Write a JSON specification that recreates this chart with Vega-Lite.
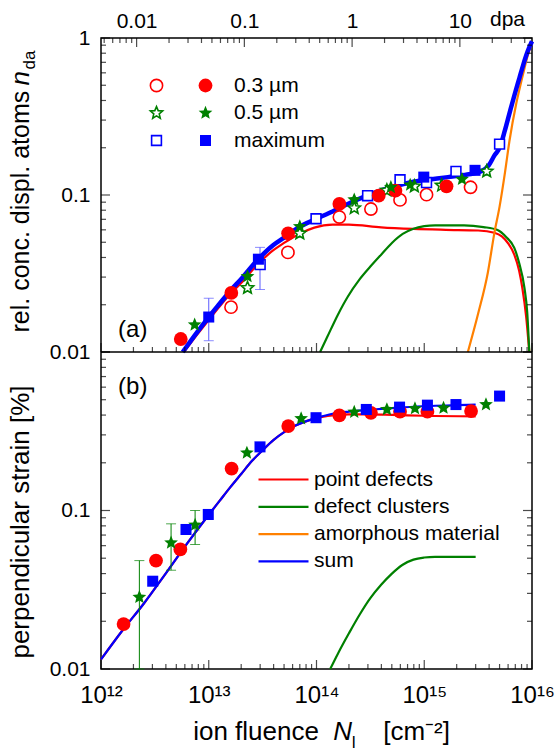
{
"$schema":"https://vega.github.io/schema/vega-lite/v6.json",
"padding":{"left":7,"top":8,"right":0,"bottom":0},
"width":431,"height":631,
"config":{"font":"Liberation Sans","view":{"stroke":"black","strokeWidth":1.5},
"axis":{"domain":false,"grid":false,"ticks":false,"labelColor":"black","titleColor":"black","titleFontWeight":"normal","labelFlush":false,"labelOverlap":false,"labelBound":false},
"legend":{"padding":0,"labelColor":"black","labelFont":"Liberation Sans","labelLimit":400}},
"datasets":{
"a_lines":[
{"N":5.89e12,"v":0.01,"c":"point defects"},{"N":7.94e12,"v":0.0131,"c":"point defects"},{"N":1e13,"v":0.016,"c":"point defects"},{"N":1.26e13,"v":0.0195,"c":"point defects"},{"N":1.58e13,"v":0.0233,"c":"point defects"},{"N":2e13,"v":0.0275,"c":"point defects"},{"N":2.88e13,"v":0.0365,"c":"point defects"},{"N":3.98e13,"v":0.0445,"c":"point defects"},{"N":5e13,"v":0.0495,"c":"point defects"},{"N":6.92e13,"v":0.0565,"c":"point defects"},{"N":9.55e13,"v":0.062,"c":"point defects"},{"N":1.41e14,"v":0.0648,"c":"point defects"},{"N":2e14,"v":0.0648,"c":"point defects"},{"N":3.98e14,"v":0.0622,"c":"point defects"},{"N":7.94e14,"v":0.0608,"c":"point defects"},{"N":1.58e15,"v":0.06,"c":"point defects"},{"N":3.16e15,"v":0.0594,"c":"point defects"},{"N":4.47e15,"v":0.0575,"c":"point defects"},{"N":5.25e15,"v":0.0545,"c":"point defects"},{"N":6.03e15,"v":0.049,"c":"point defects"},{"N":6.85e15,"v":0.0417,"c":"point defects"},{"N":7.59e15,"v":0.033,"c":"point defects"},{"N":8.13e15,"v":0.0256,"c":"point defects"},{"N":8.81e15,"v":0.017,"c":"point defects"},{"N":9.44e15,"v":0.01,"c":"point defects"},
{"N":1.08e14,"v":0.01,"c":"defect clusters"},{"N":1.26e14,"v":0.0125,"c":"defect clusters"},{"N":1.58e14,"v":0.0173,"c":"defect clusters"},{"N":1.95e14,"v":0.0225,"c":"defect clusters"},{"N":2.51e14,"v":0.029,"c":"defect clusters"},{"N":3.16e14,"v":0.035,"c":"defect clusters"},{"N":3.98e14,"v":0.0417,"c":"defect clusters"},{"N":5.01e14,"v":0.0495,"c":"defect clusters"},{"N":6.31e14,"v":0.0565,"c":"defect clusters"},{"N":7.94e14,"v":0.061,"c":"defect clusters"},{"N":1e15,"v":0.0633,"c":"defect clusters"},{"N":1.26e15,"v":0.0641,"c":"defect clusters"},{"N":2.34e15,"v":0.0641,"c":"defect clusters"},{"N":3.55e15,"v":0.0625,"c":"defect clusters"},{"N":4.79e15,"v":0.0598,"c":"defect clusters"},{"N":5.75e15,"v":0.054,"c":"defect clusters"},{"N":6.85e15,"v":0.046,"c":"defect clusters"},{"N":7.59e15,"v":0.037,"c":"defect clusters"},{"N":8.51e15,"v":0.0256,"c":"defect clusters"},{"N":9.02e15,"v":0.018,"c":"defect clusters"},{"N":9.44e15,"v":0.01,"c":"defect clusters"},
{"N":2.54e15,"v":0.01,"c":"amorphous material"},{"N":3.16e15,"v":0.0175,"c":"amorphous material"},{"N":3.89e15,"v":0.032,"c":"amorphous material"},{"N":4.47e15,"v":0.057,"c":"amorphous material"},{"N":5.01e15,"v":0.085,"c":"amorphous material"},{"N":5.62e15,"v":0.14,"c":"amorphous material"},{"N":6.17e15,"v":0.22,"c":"amorphous material"},{"N":7.13e15,"v":0.38,"c":"amorphous material"},{"N":7.64e15,"v":0.47,"c":"amorphous material"},{"N":8.51e15,"v":0.64,"c":"amorphous material"},{"N":9.12e15,"v":0.77,"c":"amorphous material"},{"N":1e16,"v":0.93,"c":"amorphous material"}],
"a_sum":[
{"N":5.73e12,"v":0.01},{"N":7.94e12,"v":0.0136},{"N":1e13,"v":0.0167},{"N":1.26e13,"v":0.0203},{"N":1.58e13,"v":0.0245},{"N":2e13,"v":0.0292},{"N":2.88e13,"v":0.039},{"N":3.98e13,"v":0.048},{"N":5.01e13,"v":0.0535},{"N":6.92e13,"v":0.0625},{"N":9.55e13,"v":0.0696},{"N":1.41e14,"v":0.0785},{"N":1.95e14,"v":0.0877},{"N":2.82e14,"v":0.098},{"N":3.98e14,"v":0.107},{"N":5.62e14,"v":0.115},{"N":8.13e14,"v":0.122},{"N":1.17e15,"v":0.126},{"N":1.66e15,"v":0.13},{"N":2.51e15,"v":0.135},{"N":3.39e15,"v":0.1416},{"N":3.98e15,"v":0.155},{"N":4.47e15,"v":0.178},{"N":5.01e15,"v":0.2},{"N":5.62e15,"v":0.26},{"N":6.17e15,"v":0.33},{"N":6.92e15,"v":0.44},{"N":7.64e15,"v":0.556},{"N":8.32e15,"v":0.68},{"N":9.12e15,"v":0.822},{"N":1e16,"v":0.953}],
"a_err":[{"N":1e13,"lo":0.0118,"hi":0.022},{"N":2.99e13,"lo":0.025,"hi":0.0464}],
"a_open":[
{"N":1.61e13,"v":0.0193,"s":"0.3 µm"},{"N":5.43e13,"v":0.0431,"s":"0.3 µm"},{"N":1.63e14,"v":0.0724,"s":"0.3 µm"},{"N":3.2e14,"v":0.0814,"s":"0.3 µm"},{"N":5.96e14,"v":0.093,"s":"0.3 µm"},{"N":1.05e15,"v":0.1005,"s":"0.3 µm"},{"N":2.69e15,"v":0.112,"s":"0.3 µm"},
{"N":2.29e13,"v":0.0256,"s":"0.5 µm"},{"N":7.0e13,"v":0.057,"s":"0.5 µm"},{"N":2.24e14,"v":0.0826,"s":"0.5 µm"},{"N":4.5e14,"v":0.107,"s":"0.5 µm"},{"N":8.1e14,"v":0.1136,"s":"0.5 µm"},{"N":1.45e15,"v":0.115,"s":"0.5 µm"},{"N":3.8e15,"v":0.1415,"s":"0.5 µm"},
{"N":3.0e13,"v":0.036,"s":"maximum"},{"N":9.9e13,"v":0.0706,"s":"maximum"},{"N":2.98e14,"v":0.099,"s":"maximum"},{"N":5.96e14,"v":0.125,"s":"maximum"},{"N":1.05e15,"v":0.12,"s":"maximum"},{"N":1.97e15,"v":0.1415,"s":"maximum"},{"N":5.0e15,"v":0.211,"s":"maximum"}],
"a_filled":[
{"N":5.5e12,"v":0.0121,"s":"0.3 µm"},{"N":1.62e13,"v":0.0238,"s":"0.3 µm"},{"N":5.45e13,"v":0.057,"s":"0.3 µm"},{"N":1.63e14,"v":0.0877,"s":"0.3 µm"},{"N":3.78e14,"v":0.099,"s":"0.3 µm"},{"N":5.4e14,"v":0.1066,"s":"0.3 µm"},{"N":1.61e15,"v":0.1136,"s":"0.3 µm"},
{"N":7.4e12,"v":0.0149,"s":"0.5 µm"},{"N":2.29e13,"v":0.0303,"s":"0.5 µm"},{"N":7.0e13,"v":0.063,"s":"0.5 µm"},{"N":2.24e14,"v":0.0933,"s":"0.5 µm"},{"N":4.9e14,"v":0.112,"s":"0.5 µm"},{"N":7.4e14,"v":0.116,"s":"0.5 µm"},{"N":2.24e15,"v":0.126,"s":"0.5 µm"},
{"N":1.0e13,"v":0.0167,"s":"maximum"},{"N":2.89e13,"v":0.039,"s":"maximum"},{"N":9.9e14,"v":0.13,"s":"maximum"},{"N":2.96e15,"v":0.1436,"s":"maximum"}],
"a_text":[{"N":1.97e12,"v":0.01387,"t":"(a)"}],
"dpa":[{"d":1,"v":0.5}],
"xlab":[{"N":1e13,"v":0.5}],
"sep":[{"v":0.01}],
"xmaj":[{"t":1e12},{"t":1e13},{"t":1e14},{"t":1e15},{"t":1e16}],
"xmin":[{"t":2e12},{"t":3e12},{"t":4e12},{"t":5e12},{"t":6e12},{"t":7e12},{"t":8e12},{"t":9e12},{"t":2e13},{"t":3e13},{"t":4e13},{"t":5e13},{"t":6e13},{"t":7e13},{"t":8e13},{"t":9e13},{"t":2e14},{"t":3e14},{"t":4e14},{"t":5e14},{"t":6e14},{"t":7e14},{"t":8e14},{"t":9e14},{"t":2e15},{"t":3e15},{"t":4e15},{"t":5e15},{"t":6e15},{"t":7e15},{"t":8e15},{"t":9e15}],
"ymaj":[{"t":0.01},{"t":0.1},{"t":1}],
"ymin":[{"t":0.02},{"t":0.03},{"t":0.04},{"t":0.05},{"t":0.06},{"t":0.07},{"t":0.08},{"t":0.09},{"t":0.2},{"t":0.3},{"t":0.4},{"t":0.5},{"t":0.6},{"t":0.7},{"t":0.8},{"t":0.9}],
"dmaj":[{"t":0.01},{"t":0.1},{"t":1},{"t":10}],
"dmin":[{"t":0.005},{"t":0.006},{"t":0.007},{"t":0.008},{"t":0.009},{"t":0.02},{"t":0.03},{"t":0.04},{"t":0.05},{"t":0.06},{"t":0.07},{"t":0.08},{"t":0.09},{"t":0.2},{"t":0.3},{"t":0.4},{"t":0.5},{"t":0.6},{"t":0.7},{"t":0.8},{"t":0.9},{"t":2},{"t":3},{"t":4},{"t":5},{"t":6},{"t":7},{"t":8},{"t":9},{"t":20},{"t":30},{"t":40}],
"b_lines":[
{"N":1e12,"v":0.0115,"c":"point defects"},{"N":1.58e12,"v":0.0175,"c":"point defects"},{"N":2.51e12,"v":0.026,"c":"point defects"},{"N":3.98e12,"v":0.04,"c":"point defects"},{"N":6.31e12,"v":0.062,"c":"point defects"},{"N":1e13,"v":0.094,"c":"point defects"},{"N":1.26e13,"v":0.115,"c":"point defects"},{"N":1.58e13,"v":0.14,"c":"point defects"},{"N":2e13,"v":0.17,"c":"point defects"},{"N":2.51e13,"v":0.205,"c":"point defects"},{"N":3.16e13,"v":0.24,"c":"point defects"},{"N":3.98e13,"v":0.278,"c":"point defects"},{"N":5.01e13,"v":0.312,"c":"point defects"},{"N":6.31e13,"v":0.342,"c":"point defects"},{"N":7.94e13,"v":0.365,"c":"point defects"},{"N":1e14,"v":0.383,"c":"point defects"},{"N":1.41e14,"v":0.398,"c":"point defects"},{"N":2e14,"v":0.404,"c":"point defects"},{"N":3.16e14,"v":0.404,"c":"point defects"},{"N":5.01e14,"v":0.401,"c":"point defects"},{"N":1e15,"v":0.396,"c":"point defects"},{"N":3e15,"v":0.393,"c":"point defects"},
{"N":1.34e14,"v":0.01,"c":"defect clusters"},{"N":1.58e14,"v":0.0125,"c":"defect clusters"},{"N":2e14,"v":0.0168,"c":"defect clusters"},{"N":2.51e14,"v":0.022,"c":"defect clusters"},{"N":3.16e14,"v":0.028,"c":"defect clusters"},{"N":3.98e14,"v":0.034,"c":"defect clusters"},{"N":5.01e14,"v":0.04,"c":"defect clusters"},{"N":6.31e14,"v":0.0455,"c":"defect clusters"},{"N":7.94e14,"v":0.049,"c":"defect clusters"},{"N":1e15,"v":0.0505,"c":"defect clusters"},{"N":1.26e15,"v":0.051,"c":"defect clusters"},{"N":3e15,"v":0.051,"c":"defect clusters"}],
"b_sum":[
{"N":1e12,"v":0.0115,"c":"sum"},{"N":1.58e12,"v":0.0175,"c":"sum"},{"N":2.51e12,"v":0.026,"c":"sum"},{"N":3.98e12,"v":0.04,"c":"sum"},{"N":6.31e12,"v":0.062,"c":"sum"},{"N":1e13,"v":0.094,"c":"sum"},{"N":1.26e13,"v":0.115,"c":"sum"},{"N":1.58e13,"v":0.14,"c":"sum"},{"N":2e13,"v":0.17,"c":"sum"},{"N":2.51e13,"v":0.205,"c":"sum"},{"N":3.16e13,"v":0.24,"c":"sum"},{"N":3.98e13,"v":0.278,"c":"sum"},{"N":5.01e13,"v":0.312,"c":"sum"},{"N":6.31e13,"v":0.342,"c":"sum"},{"N":7.94e13,"v":0.365,"c":"sum"},{"N":1e14,"v":0.384,"c":"sum"},{"N":1.41e14,"v":0.408,"c":"sum"},{"N":2e14,"v":0.421,"c":"sum"},{"N":3.16e14,"v":0.432,"c":"sum"},{"N":5.01e14,"v":0.443,"c":"sum"},{"N":7.94e14,"v":0.451,"c":"sum"},{"N":1.26e15,"v":0.458,"c":"sum"},{"N":2e15,"v":0.462,"c":"sum"},{"N":3e15,"v":0.465,"c":"sum"}],
"b_err":[{"N":2.27e12,"lo":0.01,"hi":0.0483},{"N":4.47e12,"lo":0.042,"hi":0.0824},{"N":7.47e12,"lo":0.061,"hi":0.1}],
"b_pts":[
{"N":1.62e12,"v":0.0192,"s":"0.3 µm"},{"N":3.24e12,"v":0.0483,"s":"0.3 µm"},{"N":5.45e12,"v":0.0568,"s":"0.3 µm"},{"N":1.63e13,"v":0.184,"s":"0.3 µm"},{"N":5.47e13,"v":0.341,"s":"0.3 µm"},{"N":1.63e14,"v":0.398,"s":"0.3 µm"},{"N":3.2e14,"v":0.413,"s":"0.3 µm"},{"N":5.96e14,"v":0.42,"s":"0.3 µm"},{"N":1.07e15,"v":0.42,"s":"0.3 µm"},{"N":2.72e15,"v":0.424,"s":"0.3 µm"},
{"N":2.27e12,"v":0.0284,"s":"0.5 µm"},{"N":4.47e12,"v":0.0625,"s":"0.5 µm"},{"N":7.47e12,"v":0.081,"s":"0.5 µm"},{"N":2.26e13,"v":0.231,"s":"0.5 µm"},{"N":7.2e13,"v":0.38,"s":"0.5 µm"},{"N":2.24e14,"v":0.418,"s":"0.5 µm"},{"N":4.5e14,"v":0.434,"s":"0.5 µm"},{"N":8.2e14,"v":0.44,"s":"0.5 µm"},{"N":1.51e15,"v":0.444,"s":"0.5 µm"},{"N":3.74e15,"v":0.466,"s":"0.5 µm"},
{"N":3.02e12,"v":0.0358,"s":"maximum"},{"N":6.15e12,"v":0.0759,"s":"maximum"},{"N":9.9e12,"v":0.0944,"s":"maximum"},{"N":2.99e13,"v":0.252,"s":"maximum"},{"N":9.9e13,"v":0.385,"s":"maximum"},{"N":2.9e14,"v":0.434,"s":"maximum"},{"N":5.9e14,"v":0.449,"s":"maximum"},{"N":1.07e15,"v":0.462,"s":"maximum"},{"N":1.97e15,"v":0.466,"s":"maximum"},{"N":5.0e15,"v":0.527,"s":"maximum"}],
"b_text":[{"N":1.97e12,"v":0.601,"t":"(b)"}]
},
"resolve":{"scale":{"x":"independent","y":"independent","color":"independent","strokeWidth":"independent","shape":"independent","fill":"independent","stroke":"independent"}},
"layer":[
{"resolve":{"scale":{"x":"independent"}},
"layer":[
{"resolve":{"scale":{"shape":"independent","fill":"independent","stroke":"independent"}},
"layer":[
{"data":{"name":"a_lines"},"mark":{"type":"line","strokeWidth":2.2,"interpolate":"monotone"},
"encoding":{
"x":{"field":"N","type":"quantitative","scale":{"type":"log","domain":[1e12,1e16],"nice":false},"axis":null},
"y":{"field":"v","type":"quantitative","scale":{"type":"log","domain":[0.01,1],"nice":false,"range":[314,0]},"axis":{"orient":"left","values":[0.01,0.1,1],"format":"~g","labelFontSize":21,"labelPadding":11,"ticks":false,"title":"rel. conc. displ. atoms","titleFontSize":25,"titleX":-73,"titleY":294,"titleAlign":"left","titleAngle":-90,"titleBaseline":"alphabetic"}},
"color":{"field":"c","type":"nominal","scale":{"domain":["point defects","defect clusters","amorphous material","sum"],"range":["#ff0000","#008000","#ff8000","#0000ff"]},"legend":null}}},
{"data":{"name":"a_sum"},"mark":{"type":"line","strokeWidth":4.5,"color":"#0000ff","interpolate":"monotone"},
"encoding":{"x":{"field":"N","type":"quantitative","scale":{"type":"log","domain":[1e12,1e16],"nice":false},"axis":null},
"y":{"field":"v","type":"quantitative","scale":{"type":"log","domain":[0.01,1],"nice":false,"range":[314,0]},"axis":{"orient":"left","labels":false,"ticks":false,"title":"n","titleFontStyle":"italic","titleFontSize":26,"titleX":-73,"titleY":47,"titleAlign":"left","titleAngle":-90,"titleBaseline":"alphabetic"}}}},
{"data":{"name":"a_sum"},"mark":{"type":"point","opacity":0},
"encoding":{"x":{"field":"N","type":"quantitative","scale":{"type":"log","domain":[1e12,1e16],"nice":false},"axis":null},"y":{"field":"v","type":"quantitative","scale":{"type":"log","domain":[0.01,1],"nice":false,"range":[314,0]},"axis":{"orient":"right","labels":false,"ticks":false,"title":"da","titleFontSize":17,"titleX":-498,"titleY":31,"titleAlign":"left","titleAngle":-90,"titleBaseline":"alphabetic"}}}},
{"data":{"name":"sep"},"mark":{"type":"rule","color":"black","strokeWidth":1.5},
"encoding":{"y":{"field":"v","type":"quantitative","scale":{"type":"log","domain":[0.01,1],"nice":false,"range":[314,0]},"axis":null}}},
{"data":{"name":"ymaj"},"mark":{"type":"tick","orient":"horizontal","size":9,"thickness":1.2,"color":"black","xOffset":4.5},
"encoding":{"x":{"datum":1e12,"type":"quantitative","scale":{"type":"log","domain":[1e12,1e16],"nice":false},"axis":null},"y":{"field":"t","type":"quantitative","scale":{"type":"log","domain":[0.01,1],"nice":false,"range":[314,0]},"axis":null}}},
{"data":{"name":"ymin"},"mark":{"type":"tick","orient":"horizontal","size":5,"thickness":1.2,"color":"black","xOffset":2.5},
"encoding":{"x":{"datum":1e12,"type":"quantitative","scale":{"type":"log","domain":[1e12,1e16],"nice":false},"axis":null},"y":{"field":"t","type":"quantitative","scale":{"type":"log","domain":[0.01,1],"nice":false,"range":[314,0]},"axis":null}}},
{"data":{"name":"ymaj"},"mark":{"type":"tick","orient":"horizontal","size":9,"thickness":1.2,"color":"black","xOffset":-4.5},
"encoding":{"x":{"datum":1e16,"type":"quantitative","scale":{"type":"log","domain":[1e12,1e16],"nice":false},"axis":null},"y":{"field":"t","type":"quantitative","scale":{"type":"log","domain":[0.01,1],"nice":false,"range":[314,0]},"axis":null}}},
{"data":{"name":"ymin"},"mark":{"type":"tick","orient":"horizontal","size":5,"thickness":1.2,"color":"black","xOffset":-2.5},
"encoding":{"x":{"datum":1e16,"type":"quantitative","scale":{"type":"log","domain":[1e12,1e16],"nice":false},"axis":null},"y":{"field":"t","type":"quantitative","scale":{"type":"log","domain":[0.01,1],"nice":false,"range":[314,0]},"axis":null}}},
{"data":{"name":"xmaj"},"mark":{"type":"tick","orient":"vertical","size":9,"thickness":1.2,"color":"black","yOffset":-4.5},
"encoding":{"x":{"field":"t","type":"quantitative","scale":{"type":"log","domain":[1e12,1e16],"nice":false},"axis":null},"y":{"datum":0.01,"type":"quantitative","scale":{"type":"log","domain":[0.01,1],"nice":false,"range":[314,0]},"axis":null}}},
{"data":{"name":"xmin"},"mark":{"type":"tick","orient":"vertical","size":5,"thickness":1.2,"color":"black","yOffset":-2.5},
"encoding":{"x":{"field":"t","type":"quantitative","scale":{"type":"log","domain":[1e12,1e16],"nice":false},"axis":null},"y":{"datum":0.01,"type":"quantitative","scale":{"type":"log","domain":[0.01,1],"nice":false,"range":[314,0]},"axis":null}}},
{"data":{"name":"a_err"},"mark":{"type":"rule","color":"#5a5aff","strokeWidth":1},
"encoding":{"x":{"field":"N","type":"quantitative","scale":{"type":"log","domain":[1e12,1e16],"nice":false},"axis":null},"y":{"field":"lo","type":"quantitative","scale":{"type":"log","domain":[0.01,1],"nice":false,"range":[314,0]},"axis":null},"y2":{"field":"hi"}}},
{"data":{"name":"a_err"},"mark":{"type":"tick","orient":"horizontal","color":"#5a5aff","size":10,"thickness":1},
"encoding":{"x":{"field":"N","type":"quantitative","scale":{"type":"log","domain":[1e12,1e16],"nice":false},"axis":null},"y":{"field":"lo","type":"quantitative","scale":{"type":"log","domain":[0.01,1],"nice":false,"range":[314,0]},"axis":null}}},
{"data":{"name":"a_err"},"mark":{"type":"tick","orient":"horizontal","color":"#5a5aff","size":10,"thickness":1},
"encoding":{"x":{"field":"N","type":"quantitative","scale":{"type":"log","domain":[1e12,1e16],"nice":false},"axis":null},"y":{"field":"hi","type":"quantitative","scale":{"type":"log","domain":[0.01,1],"nice":false,"range":[314,0]},"axis":null}}},
{"data":{"name":"a_open"},"mark":{"type":"point","filled":true,"fill":"white","strokeWidth":1.6,"size":150,"opacity":1},
"encoding":{"x":{"field":"N","type":"quantitative","scale":{"type":"log","domain":[1e12,1e16],"nice":false},"axis":null},"y":{"field":"v","type":"quantitative","scale":{"type":"log","domain":[0.01,1],"nice":false,"range":[314,0]},"axis":null},
"shape":{"field":"s","type":"nominal","scale":{"domain":["0.3 µm","0.5 µm","maximum"],"range":["circle","M0,-1.05L0.2763,-0.3802L0.9986,-0.3245L0.447,0.1452L0.6172,0.8495L0,0.47L-0.6172,0.8495L-0.447,0.1452L-0.9986,-0.3245L-0.2763,-0.3802Z","M-0.8,-0.8L0.8,-0.8L0.8,0.8L-0.8,0.8Z"]},"legend":{"orient":"none","legendX":45,"legendY":37,"title":null,"labelExpr":"' '","labelFontSize":21,"symbolSize":150,"symbolStrokeWidth":1.6,"symbolFillColor":"white","rowPadding":5.5}},
"stroke":{"field":"s","type":"nominal","scale":{"domain":["0.3 µm","0.5 µm","maximum"],"range":["#ff0000","#008000","#0000ff"]},"legend":{"orient":"none","legendX":45,"legendY":37,"title":null,"labelExpr":"' '","labelFontSize":21,"symbolSize":150,"symbolStrokeWidth":1.6,"symbolFillColor":"white","rowPadding":5.5}}}},
{"data":{"name":"a_filled"},"mark":{"type":"point","filled":true,"size":190,"opacity":1},
"encoding":{"x":{"field":"N","type":"quantitative","scale":{"type":"log","domain":[1e12,1e16],"nice":false},"axis":null},"y":{"field":"v","type":"quantitative","scale":{"type":"log","domain":[0.01,1],"nice":false,"range":[314,0]},"axis":null},
"shape":{"field":"s","type":"nominal","scale":{"domain":["0.3 µm","0.5 µm","maximum"],"range":["circle","M0,-1.05L0.2763,-0.3802L0.9986,-0.3245L0.447,0.1452L0.6172,0.8495L0,0.47L-0.6172,0.8495L-0.447,0.1452L-0.9986,-0.3245L-0.2763,-0.3802Z","M-0.8,-0.8L0.8,-0.8L0.8,0.8L-0.8,0.8Z"]},"legend":{"orient":"none","legendX":94,"legendY":37,"title":null,"labelFontSize":21,"labelOffset":18,"symbolSize":190,"symbolStrokeWidth":0,"rowPadding":5.5}},
"fill":{"field":"s","type":"nominal","scale":{"domain":["0.3 µm","0.5 µm","maximum"],"range":["#ff0000","#008000","#0000ff"]},"legend":{"orient":"none","legendX":94,"legendY":37,"title":null,"labelFontSize":21,"labelOffset":18,"symbolSize":190,"symbolStrokeWidth":0,"rowPadding":5.5}}}},
{"data":{"name":"a_text"},"mark":{"type":"text","fontSize":24,"align":"center","baseline":"middle","color":"black"},
"encoding":{"x":{"field":"N","type":"quantitative","scale":{"type":"log","domain":[1e12,1e16],"nice":false},"axis":null},"y":{"field":"v","type":"quantitative","scale":{"type":"log","domain":[0.01,1],"nice":false,"range":[314,0]},"axis":null},"text":{"field":"t"}}}
]},
{"data":{"name":"dpa"},"mark":{"type":"point","opacity":0},
"encoding":{"x":{"field":"d","type":"quantitative","scale":{"type":"log","domain":[0.004672,46.72],"nice":false},"axis":{"orient":"top","values":[0.01,0.1,1,10],"format":"~g","labelFontSize":21,"labelPadding":7,"ticks":false,"title":"dpa","titleFontSize":21,"titleX":406,"titleY":-13,"titleAlign":"center","titleBaseline":"alphabetic"}},
"y":{"field":"v","type":"quantitative","scale":{"type":"log","domain":[0.01,1],"nice":false,"range":[314,0]},"axis":null}}},
{"data":{"name":"dmaj"},"mark":{"type":"tick","orient":"vertical","size":9,"thickness":1.2,"color":"black","yOffset":4.5},
"encoding":{"x":{"field":"t","type":"quantitative","scale":{"type":"log","domain":[0.004672,46.72],"nice":false},"axis":null},"y":{"datum":1,"type":"quantitative","scale":{"type":"log","domain":[0.01,1],"nice":false,"range":[314,0]},"axis":null}}},
{"data":{"name":"dmin"},"mark":{"type":"tick","orient":"vertical","size":5,"thickness":1.2,"color":"black","yOffset":2.5},
"encoding":{"x":{"field":"t","type":"quantitative","scale":{"type":"log","domain":[0.004672,46.72],"nice":false},"axis":null},"y":{"datum":1,"type":"quantitative","scale":{"type":"log","domain":[0.01,1],"nice":false,"range":[314,0]},"axis":null}}}
]},
{"resolve":{"scale":{"x":"independent","y":"independent"}},
"layer":[
{"layer":[
{"data":{"name":"b_lines"},"mark":{"type":"line","interpolate":"monotone"},
"encoding":{
"x":{"field":"N","type":"quantitative","scale":{"type":"log","domain":[1e12,1e16],"nice":false},"axis":null},
"y":{"field":"v","type":"quantitative","scale":{"type":"log","domain":[0.01,1],"nice":false,"range":[631,314]},"axis":null},
"color":{"field":"c","type":"nominal","scale":{"domain":["point defects","defect clusters","amorphous material","sum"],"range":["#ff0000","#008000","#ff8000","#0000ff"]},"legend":{"orient":"none","legendX":172,"legendY":431,"title":null,"symbolType":"M-5,0L5,0","symbolSize":100,"labelFontSize":21,"labelOffset":20,"rowPadding":5.3}},
"strokeWidth":{"field":"c","type":"ordinal","scale":{"domain":["point defects","defect clusters","amorphous material","sum"],"range":[2.2,2.2,2.2,4.5]},"legend":{"orient":"none","legendX":172,"legendY":431,"title":null,"symbolType":"M-5,0L5,0","symbolSize":100,"labelFontSize":21,"labelOffset":20,"rowPadding":5.3}}}},
{"data":{"name":"b_sum"},"mark":{"type":"line","interpolate":"monotone"},
"encoding":{"x":{"field":"N","type":"quantitative","scale":{"type":"log","domain":[1e12,1e16],"nice":false},"axis":null},
"y":{"field":"v","type":"quantitative","scale":{"type":"log","domain":[0.01,1],"nice":false,"range":[631,314]},"axis":null},
"color":{"field":"c","type":"nominal","scale":{"domain":["point defects","defect clusters","amorphous material","sum"],"range":["#ff0000","#008000","#ff8000","#0000ff"]},"legend":null},
"strokeWidth":{"field":"c","type":"ordinal","scale":{"domain":["point defects","defect clusters","amorphous material","sum"],"range":[2.2,2.2,2.2,4.5]},"legend":null}}},
{"data":{"name":"ymaj"},"mark":{"type":"tick","orient":"horizontal","size":9,"thickness":1.2,"color":"black","xOffset":4.5},
"encoding":{"x":{"datum":1e12,"type":"quantitative","scale":{"type":"log","domain":[1e12,1e16],"nice":false},"axis":null},"y":{"field":"t","type":"quantitative","scale":{"type":"log","domain":[0.01,1],"nice":false,"range":[631,314]},"axis":null}}},
{"data":{"name":"ymin"},"mark":{"type":"tick","orient":"horizontal","size":5,"thickness":1.2,"color":"black","xOffset":2.5},
"encoding":{"x":{"datum":1e12,"type":"quantitative","scale":{"type":"log","domain":[1e12,1e16],"nice":false},"axis":null},"y":{"field":"t","type":"quantitative","scale":{"type":"log","domain":[0.01,1],"nice":false,"range":[631,314]},"axis":null}}},
{"data":{"name":"ymaj"},"mark":{"type":"tick","orient":"horizontal","size":9,"thickness":1.2,"color":"black","xOffset":-4.5},
"encoding":{"x":{"datum":1e16,"type":"quantitative","scale":{"type":"log","domain":[1e12,1e16],"nice":false},"axis":null},"y":{"field":"t","type":"quantitative","scale":{"type":"log","domain":[0.01,1],"nice":false,"range":[631,314]},"axis":null}}},
{"data":{"name":"ymin"},"mark":{"type":"tick","orient":"horizontal","size":5,"thickness":1.2,"color":"black","xOffset":-2.5},
"encoding":{"x":{"datum":1e16,"type":"quantitative","scale":{"type":"log","domain":[1e12,1e16],"nice":false},"axis":null},"y":{"field":"t","type":"quantitative","scale":{"type":"log","domain":[0.01,1],"nice":false,"range":[631,314]},"axis":null}}},
{"data":{"name":"xmaj"},"mark":{"type":"tick","orient":"vertical","size":9,"thickness":1.2,"color":"black","yOffset":-4.5},
"encoding":{"x":{"field":"t","type":"quantitative","scale":{"type":"log","domain":[1e12,1e16],"nice":false},"axis":null},"y":{"datum":0.01,"type":"quantitative","scale":{"type":"log","domain":[0.01,1],"nice":false,"range":[631,314]},"axis":null}}},
{"data":{"name":"xmin"},"mark":{"type":"tick","orient":"vertical","size":5,"thickness":1.2,"color":"black","yOffset":-2.5},
"encoding":{"x":{"field":"t","type":"quantitative","scale":{"type":"log","domain":[1e12,1e16],"nice":false},"axis":null},"y":{"datum":0.01,"type":"quantitative","scale":{"type":"log","domain":[0.01,1],"nice":false,"range":[631,314]},"axis":null}}},
{"data":{"name":"b_err"},"mark":{"type":"rule","color":"#008000","strokeWidth":1},
"encoding":{"x":{"field":"N","type":"quantitative","scale":{"type":"log","domain":[1e12,1e16],"nice":false},"axis":null},"y":{"field":"lo","type":"quantitative","scale":{"type":"log","domain":[0.01,1],"nice":false,"range":[631,314]},"axis":null},"y2":{"field":"hi"}}},
{"data":{"name":"b_err"},"mark":{"type":"tick","orient":"horizontal","color":"#008000","size":10,"thickness":1},
"encoding":{"x":{"field":"N","type":"quantitative","scale":{"type":"log","domain":[1e12,1e16],"nice":false},"axis":null},"y":{"field":"lo","type":"quantitative","scale":{"type":"log","domain":[0.01,1],"nice":false,"range":[631,314]},"axis":null}}},
{"data":{"name":"b_err"},"mark":{"type":"tick","orient":"horizontal","color":"#008000","size":10,"thickness":1},
"encoding":{"x":{"field":"N","type":"quantitative","scale":{"type":"log","domain":[1e12,1e16],"nice":false},"axis":null},"y":{"field":"hi","type":"quantitative","scale":{"type":"log","domain":[0.01,1],"nice":false,"range":[631,314]},"axis":null}}},
{"data":{"name":"b_pts"},"mark":{"type":"point","filled":true,"size":190,"opacity":1},
"encoding":{"x":{"field":"N","type":"quantitative","scale":{"type":"log","domain":[1e12,1e16],"nice":false},"axis":null},"y":{"field":"v","type":"quantitative","scale":{"type":"log","domain":[0.01,1],"nice":false,"range":[631,314]},"axis":null},
"shape":{"field":"s","type":"nominal","scale":{"domain":["0.3 µm","0.5 µm","maximum"],"range":["circle","M0,-1.05L0.2763,-0.3802L0.9986,-0.3245L0.447,0.1452L0.6172,0.8495L0,0.47L-0.6172,0.8495L-0.447,0.1452L-0.9986,-0.3245L-0.2763,-0.3802Z","M-0.8,-0.8L0.8,-0.8L0.8,0.8L-0.8,0.8Z"]},"legend":null},
"fill":{"field":"s","type":"nominal","scale":{"domain":["0.3 µm","0.5 µm","maximum"],"range":["#ff0000","#008000","#0000ff"]},"legend":null}}},
{"data":{"name":"b_text"},"mark":{"type":"text","fontSize":24,"align":"center","baseline":"middle","color":"black"},
"encoding":{"x":{"field":"N","type":"quantitative","scale":{"type":"log","domain":[1e12,1e16],"nice":false},"axis":null},"y":{"field":"v","type":"quantitative","scale":{"type":"log","domain":[0.01,1],"nice":false,"range":[631,314]},"axis":null},"text":{"field":"t"}}}
]},
{"data":{"name":"xlab"},"mark":{"type":"point","opacity":0},
"encoding":{"x":{"field":"N","type":"quantitative","scale":{"type":"log","domain":[1e12,1e16],"nice":false},"axis":{"orient":"top","offset":-645,"values":[1e12,1e13,1e14,1e15,1e16],"labelExpr":"datum.value < pow(10,12.5) ? '10¹²' : datum.value < pow(10,13.5) ? '10¹³' : datum.value < pow(10,14.5) ? '10¹⁴' : datum.value < pow(10,15.5) ? '10¹⁵' : '10¹⁶'","labelFontSize":24,"labelPadding":0,"labelBaseline":"top","ticks":false,"title":"ion fluence","titleFontSize":26,"titleX":91.7,"titleY":56.7,"titleAlign":"left","titleBaseline":"alphabetic"}},
"y":{"field":"v","type":"quantitative","scale":{"type":"log","domain":[0.01,1],"nice":false,"range":[631,314]},"axis":{"orient":"left","values":[0.01,0.1],"format":"~g","labelFontSize":21,"labelPadding":11,"ticks":false,"title":null}}}},
{"data":{"name":"xlab"},"mark":{"type":"point","opacity":0},
"encoding":{"x":{"field":"N","type":"quantitative","scale":{"type":"log","domain":[1e12,1e16],"nice":false},"axis":{"orient":"top","offset":-645,"labels":false,"ticks":false,"title":"N","titleFontStyle":"italic","titleFontSize":26,"titleX":231.7,"titleY":56.7,"titleAlign":"left","titleBaseline":"alphabetic"}},
"y":{"field":"v","type":"quantitative","scale":{"type":"log","domain":[0.01,1],"nice":false,"range":[631,314]},"axis":{"orient":"left","labels":false,"ticks":false,"title":"perpendicular strain    [%]","titleFontSize":26,"titleX":-73,"titleY":483.5,"titleAlign":"center","titleAngle":-90,"titleBaseline":"alphabetic"}}}},
{"data":{"name":"xlab"},"mark":{"type":"point","opacity":0},
"encoding":{"x":{"field":"N","type":"quantitative","scale":{"type":"log","domain":[1e12,1e16],"nice":false},"axis":{"orient":"top","offset":-645,"labels":false,"ticks":false,"title":"I","titleFontSize":16,"titleX":250,"titleY":64,"titleAlign":"left","titleBaseline":"alphabetic"}},
"y":{"field":"v","type":"quantitative","scale":{"type":"log","domain":[0.01,1],"nice":false,"range":[631,314]},"axis":null}}},
{"data":{"name":"xlab"},"mark":{"type":"point","opacity":0},
"encoding":{"x":{"field":"N","type":"quantitative","scale":{"type":"log","domain":[1e12,1e16],"nice":false},"axis":{"orient":"top","offset":-645,"labels":false,"ticks":false,"title":"[cm⁻²]","titleFontSize":26,"titleX":281.7,"titleY":56.7,"titleAlign":"left","titleBaseline":"alphabetic"}},
"y":{"field":"v","type":"quantitative","scale":{"type":"log","domain":[0.01,1],"nice":false,"range":[631,314]},"axis":null}}}
]}
]
}
